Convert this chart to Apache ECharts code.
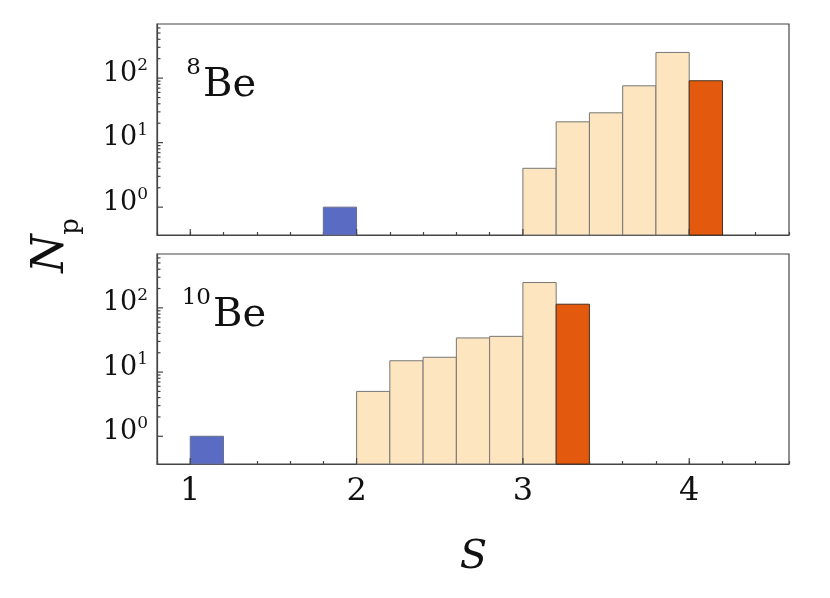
<!DOCTYPE html>
<html><head><meta charset="utf-8">
<script src="https://cdn.jsdelivr.net/npm/echarts@6/dist/echarts.min.js"></script>
<style>html,body{margin:0;padding:0;background:#fff}#c{width:830px;height:598px}</style>
</head><body><div id="c"></div>
<script>
// ---- data ----
const binWidth = 0.2;
const be8BlueStart = [1.8];
const be8BlueCount = [1];
const be8MidStart = [3.0, 3.2, 3.4, 3.6, 3.8];
const be8MidCount = [4, 21, 29, 76, 250];
const be8OrangeStart = [4.0];
const be8OrangeCount = [91];
const be10BlueStart = [1.0];
const be10BlueCount = [1];
const be10MidStart = [2.0, 2.2, 2.4, 2.6, 2.8, 3.0];
const be10MidCount = [5, 15, 17, 34, 36, 248];
const be10OrangeStart = [3.2];
const be10OrangeCount = [114];
const xRange = [0.8, 4.6];
const yRange = [0.37, 690];
const xTickMajor = [1, 2, 3, 4];
const yTickMajor = [1, 10, 100];
const yTickMinor = [2,3,4,5,6,7,8,9,20,30,40,50,60,70,80,90,200,300,400,500,600];
const panelNames = [['8', 'Be'], ['10', 'Be']];

// ---- styles ----
const FONT = 'DejaVu Serif';
const AX = '#444';
const TXT = '#111';
const colBlue = '#5a6bc4', colBeige = '#fde5bf', colOrange = '#e35a0e';

function barSeries(starts, counts, gi, fill, stroke) {
  return {
    type: 'custom', xAxisIndex: gi, yAxisIndex: gi, silent: true, z: 3,
    data: starts.map((s, i) => [s, counts[i]]),
    renderItem: function (params, api) {
      const x0 = api.value(0), n = api.value(1);
      const a = api.coord([x0, n]);
      const b = api.coord([x0 + binWidth, n]);
      const cs = params.coordSys;
      return { type: 'rect',
        shape: { x: a[0], y: a[1], width: b[0] - a[0], height: cs.y + cs.height - a[1] },
        style: { fill: fill, stroke: stroke, lineWidth: 1 } };
    }
  };
}
function yTickSeries(vals, gi, len) {
  return {
    type: 'custom', xAxisIndex: gi, yAxisIndex: gi, silent: true, z: 5,
    data: vals.map(v => [xRange[0], v]),
    renderItem: function (params, api) {
      const p = api.coord([api.value(0), api.value(1)]);
      return { type: 'line', shape: { x1: p[0], y1: p[1], x2: p[0] + len, y2: p[1] },
        style: { stroke: AX, lineWidth: 1.2 } };
    }
  };
}
function xTickSeries(vals, gi, len) {
  return {
    type: 'custom', xAxisIndex: gi, yAxisIndex: gi, silent: true, z: 5,
    data: vals.map(v => [v, yRange[0]]),
    renderItem: function (params, api) {
      const p = api.coord([api.value(0), api.value(1)]);
      return { type: 'line', shape: { x1: p[0], y1: p[1], x2: p[0], y2: p[1] - len },
        style: { stroke: AX, lineWidth: 1.2 } };
    }
  };
}
function xAxisCfg(gi, showLabels) {
  return {
    gridIndex: gi, type: 'value', min: xRange[0], max: xRange[1], interval: 0.2,
    axisLine: { show: true, lineStyle: { color: AX, width: 1.2 } },
    axisTick: { show: true, inside: true, length: 3, lineStyle: { color: AX, width: 1.2 } },
    splitLine: { show: false },
    axisLabel: { show: showLabels, margin: 12, fontFamily: FONT, fontSize: 32, color: TXT,
      formatter: v => (Math.abs(v - Math.round(v)) < 1e-6 ? String(Math.round(v)) : '') }
  };
}
function yAxisCfg(gi) {
  return {
    gridIndex: gi, type: 'log', logBase: 10, min: yRange[0], max: yRange[1],
    axisLine: { show: true, lineStyle: { color: AX, width: 1.2 } },
    axisTick: { show: false }, splitLine: { show: false }, minorTick: { show: false },
    axisLabel: { show: true, margin: 9, color: TXT, padding: [0, 0, 12, 0],
      formatter: function (v) {
        const l = Math.log10(v), r = Math.round(l);
        return Math.abs(l - r) < 1e-6 ? '{b|10}{s|' + r + '}' : '';
      },
      rich: {
        b: { fontFamily: FONT, fontSize: 27, lineHeight: 30, color: TXT, verticalAlign: 'bottom' },
        s: { fontFamily: FONT, fontSize: 17, lineHeight: 18, color: TXT, verticalAlign: 'top' }
      } }
  };
}

const chart = echarts.init(document.getElementById('c'), null, { renderer: 'canvas' });
const graphics = [];
const tops = [24, 254];
panelNames.forEach((nm, i) => {
  const off = tops[i] - tops[0];
  const shift = i === 0 ? 0 : 10;
  graphics.push({ type: 'text', x: 201 + shift, y: 68.5 + off,
    style: { text: nm[0], font: '23px "' + FONT + '"', fill: TXT, align: 'right', verticalAlign: 'middle' } });
  graphics.push({ type: 'text', x: 203 + shift, y: 85.5 + off,
    style: { text: nm[1], font: '40px "' + FONT + '"', fill: TXT, align: 'left', verticalAlign: 'middle' } });
});
graphics.push({ type: 'text', x: 52, y: 253.5, rotation: Math.PI / 2,
  style: { text: 'N', font: 'italic 44px "' + FONT + '"', fill: TXT, align: 'center', verticalAlign: 'middle' } });
graphics.push({ type: 'text', x: 71, y: 226.5, rotation: Math.PI / 2,
  style: { text: 'p', font: '26px "' + FONT + '"', fill: TXT, align: 'center', verticalAlign: 'middle' } });
graphics.push({ type: 'text', x: 473.5, y: 557.5,
  style: { text: 'S', font: 'italic 40px "' + FONT + '"', fill: TXT, align: 'center', verticalAlign: 'middle' } });

chart.setOption({
  animation: false,
  backgroundColor: '#fff',
  grid: [
    { left: 157, top: 24, width: 632, height: 211, show: true, borderColor: AX, borderWidth: 1.2, backgroundColor: 'transparent' },
    { left: 157, top: 254, width: 632, height: 210, show: true, borderColor: AX, borderWidth: 1.2, backgroundColor: 'transparent' }
  ],
  xAxis: [xAxisCfg(0, false), xAxisCfg(1, true)],
  yAxis: [yAxisCfg(0), yAxisCfg(1)],
  series: [
    barSeries(be8BlueStart, be8BlueCount, 0, colBlue, '#6a6f8a'),
    barSeries(be8MidStart, be8MidCount, 0, colBeige, '#777'),
    barSeries(be8OrangeStart, be8OrangeCount, 0, colOrange, '#4a3020'),
    barSeries(be10BlueStart, be10BlueCount, 1, colBlue, '#6a6f8a'),
    barSeries(be10MidStart, be10MidCount, 1, colBeige, '#777'),
    barSeries(be10OrangeStart, be10OrangeCount, 1, colOrange, '#4a3020'),
    yTickSeries(yTickMajor, 0, 6), yTickSeries(yTickMinor, 0, 3.5),
    yTickSeries(yTickMajor, 1, 6), yTickSeries(yTickMinor, 1, 3.5),
    xTickSeries(xTickMajor, 0, 6), xTickSeries(xTickMajor, 1, 6)
  ],
  graphic: graphics
});
</script>
</body></html>
